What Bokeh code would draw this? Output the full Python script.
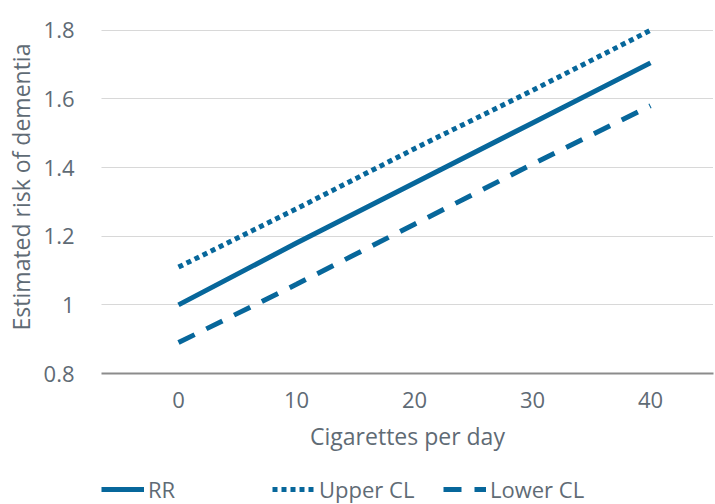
from bokeh.plotting import figure
from bokeh.layouts import column
from bokeh.models import Range1d, FixedTicker, NumeralTickFormatter, Legend, LegendItem
from bokeh.embed import file_html
from bokeh.resources import INLINE

cigarettes = [0, 10, 20, 30, 40]
rr = [1.00, 1.18, 1.355, 1.53, 1.705]
upper_cl = [1.11, 1.28, 1.455, 1.625, 1.80]
lower_cl = [0.89, 1.06, 1.235, 1.41, 1.58]
x_ticks = [0, 10, 20, 30, 40]
y_ticks = [0.8, 1.0, 1.2, 1.4, 1.6, 1.8]
series_labels = ["RR", "Upper CL", "Lower CL"]

FONT = "Open Sans"
TEXT = "#5f6b75"
BLUE = "#07679b"
styles = [dict(line_dash="solid"), dict(line_dash="5 4"), dict(line_dash="18 13")]
series = [rr, upper_cl, lower_cl]

p = figure(frame_width=612, frame_height=373, output_backend="svg",
           toolbar_location=None, title=None,
           x_range=Range1d(-6.525, 45.34), y_range=Range1d(0.8, 1.8868),
           min_border_left=101, min_border_right=2, min_border_top=0,
           min_border_bottom=76)
p.outline_line_color = None
p.background_fill_color = "white"

for vals, st in zip(series, styles):
    p.line(cigarettes, vals, line_width=5, line_color=BLUE, line_cap="butt", **st)

p.xgrid.visible = False
p.ygrid.ticker = FixedTicker(ticks=y_ticks)
p.ygrid.grid_line_color = "#b0b0b0"
p.ygrid.grid_line_dash = "1 1"
p.ygrid.grid_line_width = 1

xa = p.xaxis[0]
xa.ticker = FixedTicker(ticks=x_ticks)
xa.axis_line_color = "#8c8c8c"
xa.axis_line_width = 2
xa.major_tick_line_color = None
xa.minor_tick_line_color = None
xa.major_label_standoff = 12
xa.major_label_text_font = FONT
xa.major_label_text_font_size = "22px"
xa.major_label_text_color = TEXT
xa.axis_label = "Cigarettes per day"
xa.axis_label_text_font = FONT
xa.axis_label_text_font_size = "23px"
xa.axis_label_text_font_style = "normal"
xa.axis_label_text_color = TEXT
xa.axis_label_standoff = 9

ya = p.yaxis[0]
ya.ticker = FixedTicker(ticks=y_ticks)
ya.formatter = NumeralTickFormatter(format="0.[0]")
ya.axis_line_color = None
ya.major_tick_line_color = None
ya.minor_tick_line_color = None
ya.major_label_standoff = 21
ya.major_label_text_font = FONT
ya.major_label_text_font_size = "22px"
ya.major_label_text_color = TEXT
ya.axis_label = "Estimated risk of dementia"
ya.axis_label_text_font = FONT
ya.axis_label_text_font_size = "23px"
ya.axis_label_text_font_style = "normal"
ya.axis_label_text_color = TEXT
ya.axis_label_standoff = 4

# legend strip below the chart (its sample lines lie outside its view)
p2 = figure(width=715, height=50, output_backend="svg", toolbar_location=None,
            title=None, x_range=Range1d(100, 101), y_range=Range1d(100, 101),
            x_axis_type=None, y_axis_type=None, min_border=0)
p2.outline_line_color = None
items = []
for lab, vals, st in zip(series_labels, series, styles):
    r = p2.line(cigarettes, vals, line_width=5, line_color=BLUE, line_cap="butt", **st)
    items.append(LegendItem(label=lab, renderers=[r]))

legend = Legend(items=items, location=(0, 0), orientation="horizontal",
                glyph_width=43, glyph_height=20, label_standoff=4,
                label_width=110, spacing=14, padding=0, margin=0,
                border_line_color=None, background_fill_alpha=0,
                label_text_font=FONT, label_text_font_size="22px",
                label_text_color=TEXT)
p2.add_layout(legend)

open("out.html", "w").write(file_html(column(p, p2, spacing=0), INLINE))
